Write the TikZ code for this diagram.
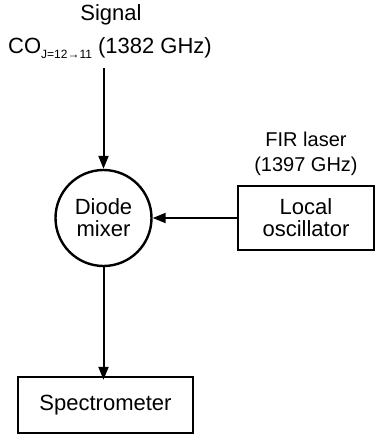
\documentclass[tikz,border=0pt]{standalone}
\usepackage{fontspec}
\setmainfont{Liberation Sans}
\usetikzlibrary{arrows.meta}
\begin{document}
\begin{tikzpicture}[x=1pt,y=-1pt,
  lw/.style={line width=2.4pt},
  conn/.style={line width=2pt,-{Triangle[length=13pt,width=10pt]}},
  lbl/.style={font=\fontsize{22}{25}\selectfont,align=center},
  small/.style={font=\fontsize{20}{22}\selectfont,align=center}]
\useasboundingbox (0,0) rectangle (376,434);
\node[lbl,inner sep=0] (sig) at (111,15) {Signal};
\node[lbl,inner sep=0,anchor=base] (co) at (110,53) {CO\raisebox{-5pt}{\fontsize{12}{12}\selectfont J=12→11} (1382 GHz)};
\coordinate (s0) at (103.5,68);
\node[lbl,draw,lw,circle,minimum size=96pt,inner sep=0] (mix) at (103.5,218) {Diode\\[-3pt]mixer};
\node[lbl,draw,lw,minimum width=136pt,minimum height=64pt,inner sep=0] (lo) at (306,218) {Local\\[-3pt]oscillator};
\node[small,inner sep=0] (fir) at (306,139) {FIR laser};
\node[small,inner sep=0] (ghz) at (306,166) {(1397 GHz)};
\node[lbl,draw,lw,minimum width=175pt,minimum height=56pt,inner sep=0] (spec) at (105.5,405) {Spectrometer};
\coordinate (bt) at ([yshift=-4pt]spec.north -| mix.south);
\draw[conn] (s0) -- (mix.north);
\draw[conn] (lo.west) -- (mix.east);
\draw[conn] (mix.south) -- (bt);
\end{tikzpicture}
\end{document}
